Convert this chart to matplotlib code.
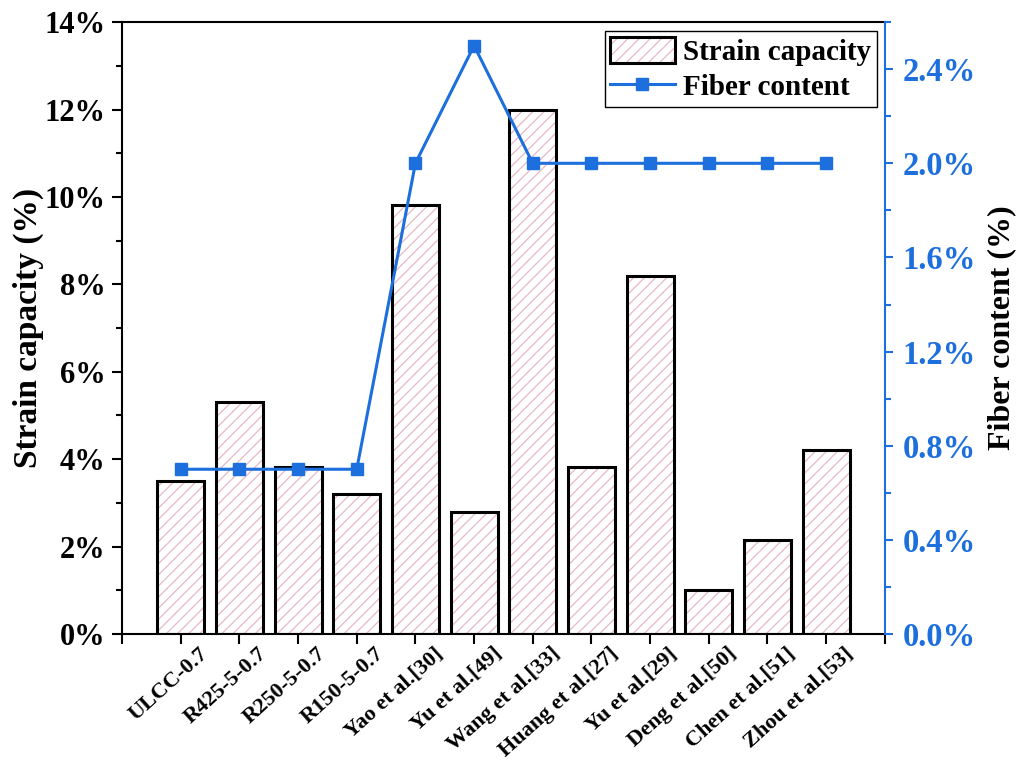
import matplotlib
matplotlib.use("Agg")
import matplotlib.pyplot as plt
import matplotlib.transforms as mtransforms
from matplotlib.ticker import MultipleLocator, FuncFormatter, FixedLocator
from matplotlib.legend_handler import HandlerTuple
from matplotlib.lines import Line2D
from matplotlib.patches import Patch

categories = ["ULCC-0.7", "R425-5-0.7", "R250-5-0.7", "R150-5-0.7", "Yao et al.[30]",
              "Yu et al.[49]", "Wang et al.[33]", "Huang et al.[27]", "Yu et al.[29]",
              "Deng et al.[50]", "Chen et al.[51]", "Zhou et al.[53]"]
strain_capacity = [3.5, 5.3, 3.82, 3.2, 9.82, 2.8, 12.0, 3.82, 8.18, 1.0, 2.15, 4.2]
fiber_content = [0.7, 0.7, 0.7, 0.7, 2.0, 2.5, 2.0, 2.0, 2.0, 2.0, 2.0, 2.0]

plt.rcParams['font.family'] = ['Liberation Serif', 'DejaVu Serif']
plt.rcParams['font.weight'] = 'bold'
plt.rcParams['hatch.linewidth'] = 0.9

BLUE = '#1c6fdc'
PINK = '#e6b8c6'

fig = plt.figure(figsize=(10.17, 7.62), dpi=100)
ax = fig.add_axes([0.12, 0.168, 0.750, 0.803])
x = list(range(len(categories)))

ax.bar(x, strain_capacity, width=0.8, color='white', edgecolor=PINK,
       hatch='///', linewidth=0, zorder=2)
ax.bar(x, strain_capacity, width=0.8, fill=False, edgecolor='black',
       linewidth=2.2, zorder=3)

ax.set_xlim(-1, 12)
ax.set_ylim(0, 14)
ax.yaxis.set_major_locator(MultipleLocator(2))
ax.yaxis.set_minor_locator(MultipleLocator(1))
ax.yaxis.set_major_formatter(FuncFormatter(lambda v, p: f"{v:.0f}%"))
ax.set_xticks(x)
ax.set_xticklabels(categories, rotation=42, ha='right', va='top', rotation_mode='anchor')
ax.xaxis.set_minor_locator(FixedLocator([-1, 12]))
ax.tick_params(axis='x', which='both', direction='out', length=7, width=1.5,
               labelsize=16, pad=0)
ax.tick_params(axis='y', which='major', direction='out', length=7, width=1.5,
               labelsize=22, pad=5)
ax.tick_params(axis='y', which='minor', direction='out', length=4, width=1.5)
offset = mtransforms.ScaledTranslation(0.18, 0.0, fig.dpi_scale_trans)
for lbl in ax.get_xticklabels():
    lbl.set_fontweight('bold')
    lbl.set_transform(lbl.get_transform() + offset)
for lbl in ax.get_yticklabels():
    lbl.set_fontweight('bold')
ax.set_ylabel("Strain capacity (%)", fontsize=24, fontweight='bold', labelpad=0)
for s in ['left', 'top', 'bottom']:
    ax.spines[s].set_linewidth(1.5)
ax.spines['right'].set_visible(False)

ax2 = ax.twinx()
ax2.plot(x, fiber_content, color=BLUE, linewidth=2.2, marker='s', markersize=8, zorder=4)
ax2.set_ylim(0, 2.6)
ax2.yaxis.set_major_locator(MultipleLocator(0.4))
ax2.yaxis.set_minor_locator(MultipleLocator(0.2))
ax2.yaxis.set_major_formatter(FuncFormatter(lambda v, p: f"{v:.1f}%"))
ax2.tick_params(axis='y', which='major', direction='out', length=6, width=1.5,
                colors=BLUE, labelsize=23.5, pad=7)
ax2.tick_params(axis='y', which='minor', direction='out', length=4, width=1.5, colors=BLUE)
for lbl in ax2.get_yticklabels():
    lbl.set_fontweight('bold')
ax2.spines['right'].set_color(BLUE)
ax2.spines['right'].set_linewidth(1.5)
for s in ['left', 'top', 'bottom']:
    ax2.spines[s].set_visible(False)
ax2.set_ylabel("Fiber content (%)", fontsize=23, fontweight='bold', labelpad=8)

h1 = (Patch(facecolor='white', edgecolor=PINK, hatch='///', linewidth=0),
      Patch(fill=False, edgecolor='black', linewidth=2.2))
h2 = Line2D([], [], color=BLUE, linewidth=2.2, marker='s', markersize=8)
leg = ax2.legend([h1, h2], ["Strain capacity", "Fiber content"],
                 handler_map={tuple: HandlerTuple(ndivide=1)},
                 loc='upper right', bbox_to_anchor=(0.99, 0.985), fancybox=False,
                 edgecolor='black', framealpha=1, prop={'weight': 'bold', 'size': 21},
                 handlelength=2.2, handleheight=1.0, borderpad=0.2, labelspacing=0.2,
                 handletextpad=0.3, borderaxespad=0.0)
leg.get_frame().set_linewidth(1.0)

fig.savefig("out.png", dpi=100)
